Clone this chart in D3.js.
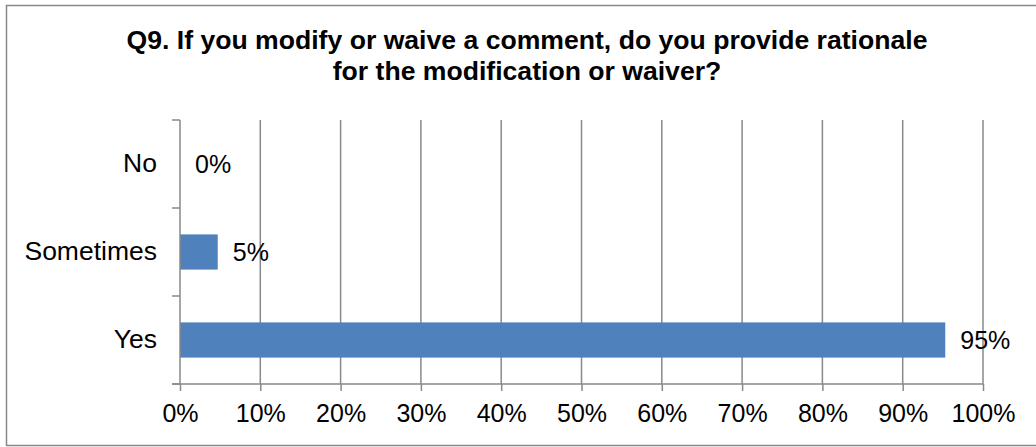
<!DOCTYPE html>
<html>
<head>
<meta charset="utf-8">
<script src="https://cdn.jsdelivr.net/npm/d3@7"></script>
<style>
  html, body { margin: 0; padding: 0; background: #fff; }
  svg { display: block; }
  text { font-family: Arial, "Liberation Sans", sans-serif; fill: #000; }
</style>
</head>
<body>
<svg id="chart" width="1036" height="447"></svg>
<script>
const categories = ["No", "Sometimes", "Yes"];
const values = [0, 0.047, 0.953];
const valueLabels = ["0%", "5%", "95%"];
const xTicks = [0, 0.1, 0.2, 0.3, 0.4, 0.5, 0.6, 0.7, 0.8, 0.9, 1.0];
const titleLines = ["Q9. If you modify or waive a comment, do you provide rationale", "for the modification or waiver?"];

const svg = d3.select("#chart");
const plot = { left: 180, right: 983, top: 120, bottom: 384 };
const gridColor = "#898989";

// outer border
svg.append("path")
  .attr("d", `M6.5,446 L6.5,5.5 L1036,5.5 M6.5,445.5 L1036,445.5`)
  .attr("fill", "none").attr("stroke", "#888").attr("stroke-width", 1.5);

// title
svg.append("text")
  .attr("x", 527).attr("text-anchor", "middle")
  .style("font-size", "26.6px").style("font-weight", "bold")
  .selectAll("tspan").data(titleLines).join("tspan")
  .attr("x", 527).attr("y", (d, i) => 49 + i * 31)
  .text(d => d);

const x = d3.scaleLinear().domain([0, 1]).range([plot.left, plot.right]);
const y = d3.scaleBand().domain(categories).range([plot.top, plot.bottom])
  .paddingInner(0.6).paddingOuter(0.3);

// gridlines
svg.append("g").selectAll("line").data(xTicks.filter(d => d > 0)).join("line")
  .attr("x1", d => x(d)).attr("x2", d => x(d))
  .attr("y1", plot.top).attr("y2", plot.bottom)
  .attr("stroke", gridColor).attr("stroke-width", 1.5);

// bars
svg.append("g").selectAll("rect").data(categories).join("rect")
  .attr("x", x(0))
  .attr("y", d => y(d))
  .attr("width", (d, i) => x(values[i]) - x(0))
  .attr("height", y.bandwidth())
  .attr("fill", "#4F81BD");

// x axis
const xAxis = d3.axisBottom(x).tickValues(xTicks).tickFormat(d3.format(".0%"))
  .tickSize(7).tickPadding(13).tickSizeOuter(0);
const gx = svg.append("g").attr("transform", `translate(0,${plot.bottom})`).call(xAxis);
gx.select(".domain").remove();
gx.append("line").attr("x1", plot.left - 8).attr("x2", plot.right).attr("y1", 0).attr("y2", 0)
  .attr("stroke", gridColor).attr("stroke-width", 1.5);
gx.selectAll(".tick line").attr("stroke", gridColor).attr("stroke-width", 1.5);
gx.selectAll(".tick text").style("font-size", "25px").style("font-family", "Arial, 'Liberation Sans', sans-serif").attr("fill", "#000");

// y axis
const yAxis = d3.axisLeft(y).tickSize(0).tickPadding(23);
const gy = svg.append("g").attr("transform", `translate(${plot.left},0)`).call(yAxis);
gy.select(".domain").remove();
gy.append("line").attr("x1", 0).attr("x2", 0).attr("y1", plot.top).attr("y2", plot.bottom)
  .attr("stroke", gridColor).attr("stroke-width", 1.5);
const boundaries = categories.map(c => y(c) - y.step() * y.paddingInner() / 2);
boundaries.push(plot.bottom);
gy.selectAll(".bound").data(boundaries).join("line").attr("class", "bound")
  .attr("x1", -8).attr("x2", 0).attr("y1", d => d).attr("y2", d => d)
  .attr("stroke", gridColor).attr("stroke-width", 1.5);
gy.selectAll(".tick text").style("font-size", "26.5px").style("font-family", "Arial, 'Liberation Sans', sans-serif").attr("fill", "#000");

// value labels
svg.append("g").selectAll("text").data(categories).join("text")
  .attr("x", (d, i) => x(values[i]) + 15)
  .attr("y", d => y(d) + y.bandwidth() / 2)
  .attr("dy", "0.35em")
  .style("font-size", "25px")
  .text((d, i) => valueLabels[i]);
</script>
</body>
</html>
